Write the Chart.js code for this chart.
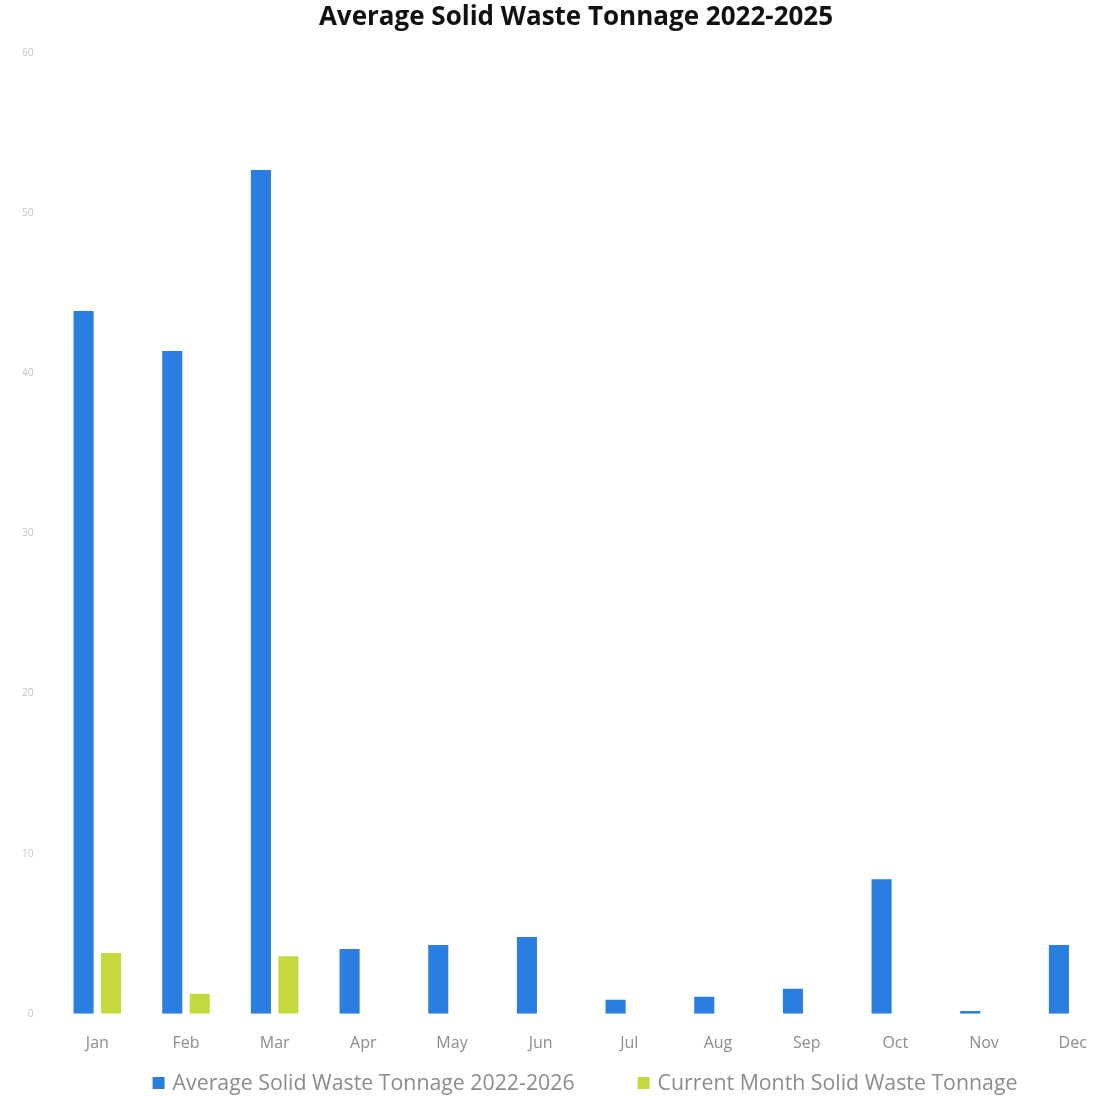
<!DOCTYPE html>
<html>
<head>
<meta charset="utf-8">
<script src="https://cdn.jsdelivr.net/npm/chart.js@4"></script>
<style>
html,body{margin:0;padding:0;background:#fff;overflow:hidden;}
#wrap{position:relative;width:1160px;height:1097px;}
</style>
</head>
<body>
<div id="wrap"><canvas id="c"></canvas></div>
<script>
const months = ['Jan','Feb','Mar','Apr','May','Jun','Jul','Aug','Sep','Oct','Nov','Dec'];
const averageTonnage = [43.9, 41.4, 52.7, 4.05, 4.3, 4.8, 0.87, 1.06, 1.56, 8.4, 0.18, 4.3];
const currentTonnage = [3.8, 1.25, 3.6, null, null, null, null, null, null, null, null, null];
const seriesNames = ['Average Solid Waste Tonnage 2022-2026', 'Current Month Solid Waste Tonnage'];
const chartTitle = 'Average Solid Waste Tonnage 2022-2025';
const yTicks = [0, 10, 20, 30, 40, 50, 60];

// Bottom legend drawn from the datasets (wide spacing between entries)
const bottomLegend = {
  id: 'bottomLegend',
  afterDraw(chart) {
    const ctx = chart.ctx;
    const ds = chart.data.datasets;
    ctx.save();
    ctx.font = '21.3px "Open Sans"';
    ctx.textBaseline = 'middle';
    ctx.textAlign = 'left';
    const box = 12, gapText = 8, gapItem = 63;
    const widths = ds.map(d => box + gapText + ctx.measureText(d.label).width);
    const total = widths.reduce((a, b) => a + b, 0) + gapItem * (ds.length - 1);
    const ca = chart.chartArea;
    let x = (ca.left + ca.right) / 2 - total / 2;
    const y = chart.height - 14;
    ds.forEach((d, i) => {
      ctx.fillStyle = d.backgroundColor;
      ctx.fillRect(x, y - box / 2, box, box);
      ctx.fillStyle = '#8c8c8c';
      ctx.fillText(d.label, x + box + gapText, y + 1);
      x += widths[i] + gapItem;
    });
    ctx.restore();
  }
};

new Chart(document.getElementById('c'), {
  type: 'bar',
  data: {
    labels: months,
    datasets: [
      {label: seriesNames[0], data: averageTonnage, backgroundColor: '#2a7ee0', categoryPercentage: 0.62, barPercentage: 0.73},
      {label: seriesNames[1], data: currentTonnage, backgroundColor: '#c6d93c', categoryPercentage: 0.62, barPercentage: 0.73}
    ]
  },
  plugins: [bottomLegend],
  options: {
    responsive: true,
    maintainAspectRatio: false,
    animation: false,
    layout: {padding: {left: 35, right: 43, top: 2, bottom: 24}},
    plugins: {
      tooltip: {enabled: false},
      legend: {display: false},
      title: {
        display: true, text: chartTitle, color: '#111',
        font: {family: 'Open Sans', size: 26, weight: 'bold'},
        padding: {top: 0, bottom: 20}
      }
    },
    scales: {
      x: {
        grid: {display: false, drawTicks: false},
        border: {display: false},
        ticks: {color: '#8c8c8c', font: {family: 'Open Sans', size: 16}, padding: 20}
      },
      y: {
        min: 0, max: 60,
        afterFit: (s) => { s.width = 18; },
        afterBuildTicks: (s) => { s.ticks = yTicks.map(v => ({value: v})); },
        grid: {display: false, drawTicks: false},
        border: {display: false},
        ticks: {color: '#c4c4c4', font: {family: 'Open Sans', size: 10}, mirror: true, crossAlign: 'far', padding: -31}
      }
    }
  }
});
</script>
</body>
</html>
